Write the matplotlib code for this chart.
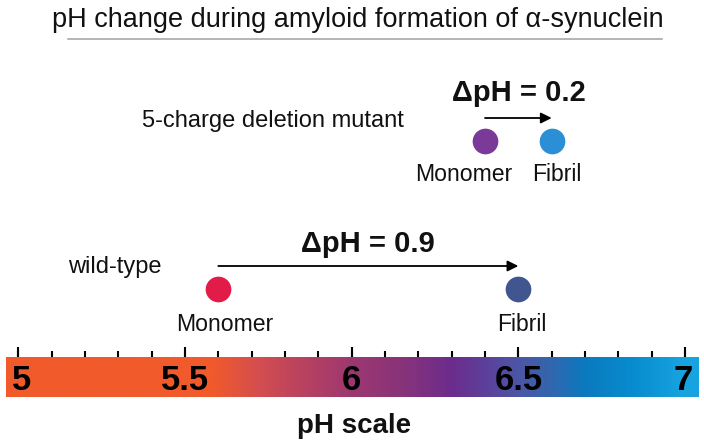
import numpy as np
import matplotlib
matplotlib.use("Agg")
import matplotlib.pyplot as plt
from matplotlib.colors import LinearSegmentedColormap

# pH values
groups = ["5-charge deletion mutant", "wild-type"]
monomer_ph = [6.4, 5.6]
fibril_ph = [6.6, 6.5]
delta_labels = ["\u0394pH = 0.2", "\u0394pH = 0.9"]
monomer_colors = ["#7b3a98", "#e21c48"]
fibril_colors = ["#2b8fd6", "#41558f"]

# scale bar
major_ticks = [5, 5.5, 6, 6.5, 7]
major_labels = ["5", "5.5", "6", "6.5", "7"]
minor_ticks = np.round(np.arange(5.0, 7.01, 0.1), 2)
grad_ph = [5.0, 5.58, 5.72, 5.85, 6.0, 6.15, 6.3, 6.4, 6.5, 6.6, 6.7, 6.85, 7.0]
grad_colors = ["#f15a2b", "#f15a2b", "#d44e50", "#b9425f", "#9d3870", "#89337a",
               "#6c2c8c", "#5d3f9b", "#4d55a5", "#3366ae", "#0b79be", "#088ccf", "#17a3e0"]

# layout (y in pixels from top, x in pH units)
px_per_ph = (685 - 18.3) / 2
x_left = 5 - 18.3 / px_per_ph
x_right = 5 + (704 - 18.3) / px_per_ph
row_y = [141, 289]          # dot rows
arrow_y = [118, 266]
delta_y = [101, 252]
delta_x = [519, 368]
group_xy = [(142, 127), (68, 273)]
name_y = [181, 331]
mono_shift = [-21, 6]
fib_shift = [5, 3]
label_shift = [3, 0, 0, 0, -2]

sans = ["Liberation Sans", "DejaVu Sans"]


def px(x):
    return x_left + x / px_per_ph


fig = plt.figure(figsize=(7.04, 4.46), dpi=100)
ax = fig.add_axes([0, 0, 1, 1])
ax.axis("off")

# title and underline
ax.text(px(358), 27, "pH change during amyloid formation of \u03b1-synuclein",
        ha="center", va="baseline", fontsize=19.5, family=sans, color="#111111")
ax.plot([px(68), px(662)], [39, 39], color="#a0a0a0", lw=1.1)

for i in range(2):
    ax.text(px(group_xy[i][0]), group_xy[i][1], groups[i], ha="left", va="baseline",
            fontsize=17, family=sans, color="#111111")
    ax.text(px(delta_x[i]), delta_y[i], delta_labels[i], ha="center", va="baseline",
            fontsize=21, family=sans, weight="bold", color="#111111")
    ax.annotate("", xy=(fibril_ph[i], arrow_y[i]), xytext=(monomer_ph[i], arrow_y[i]),
                arrowprops=dict(arrowstyle="-|>", color="black", lw=1.3,
                                mutation_scale=16, shrinkA=0, shrinkB=0))
    ax.plot(monomer_ph[i], row_y[i], "o", ms=18.5, color=monomer_colors[i], mec="none")
    ax.plot(fibril_ph[i], row_y[i], "o", ms=18.5, color=fibril_colors[i], mec="none")
    ax.text(monomer_ph[i] + mono_shift[i] / px_per_ph, name_y[i], "Monomer",
            ha="center", va="baseline", fontsize=16.6, family=sans, color="#111111")
    ax.text(fibril_ph[i] + fib_shift[i] / px_per_ph, name_y[i], "Fibril",
            ha="center", va="baseline", fontsize=16.6, family=sans, color="#111111")

# gradient bar
pos = [(p - 5) / 2 for p in grad_ph]
cmap = LinearSegmentedColormap.from_list("ph", list(zip(pos, grad_colors)))
bar_l, bar_r = px(6), px(699)
vals = np.clip((np.linspace(bar_l, bar_r, 800) - 5) / 2, 0, 1)
ax.imshow(vals[np.newaxis, :], cmap=cmap, vmin=0, vmax=1, aspect="auto",
          extent=[bar_l, bar_r, 397, 357], interpolation="bilinear")

ax.vlines(minor_ticks, 351, 357, color="black", lw=1.5)
ax.vlines(major_ticks, 347, 357, color="black", lw=1.5)
for t, lab, s in zip(major_ticks, major_labels, label_shift):
    ax.text(t + s / px_per_ph, 390, lab, ha="center", va="baseline", fontsize=25,
            family=sans, weight="bold", color="black")

ax.text(px(354), 433, "pH scale", ha="center", va="baseline", fontsize=20,
        family=sans, weight="bold", color="#111111")

ax.set_xlim(x_left, x_right)
ax.set_ylim(446, 0)

fig.savefig("out.png", dpi=100)
